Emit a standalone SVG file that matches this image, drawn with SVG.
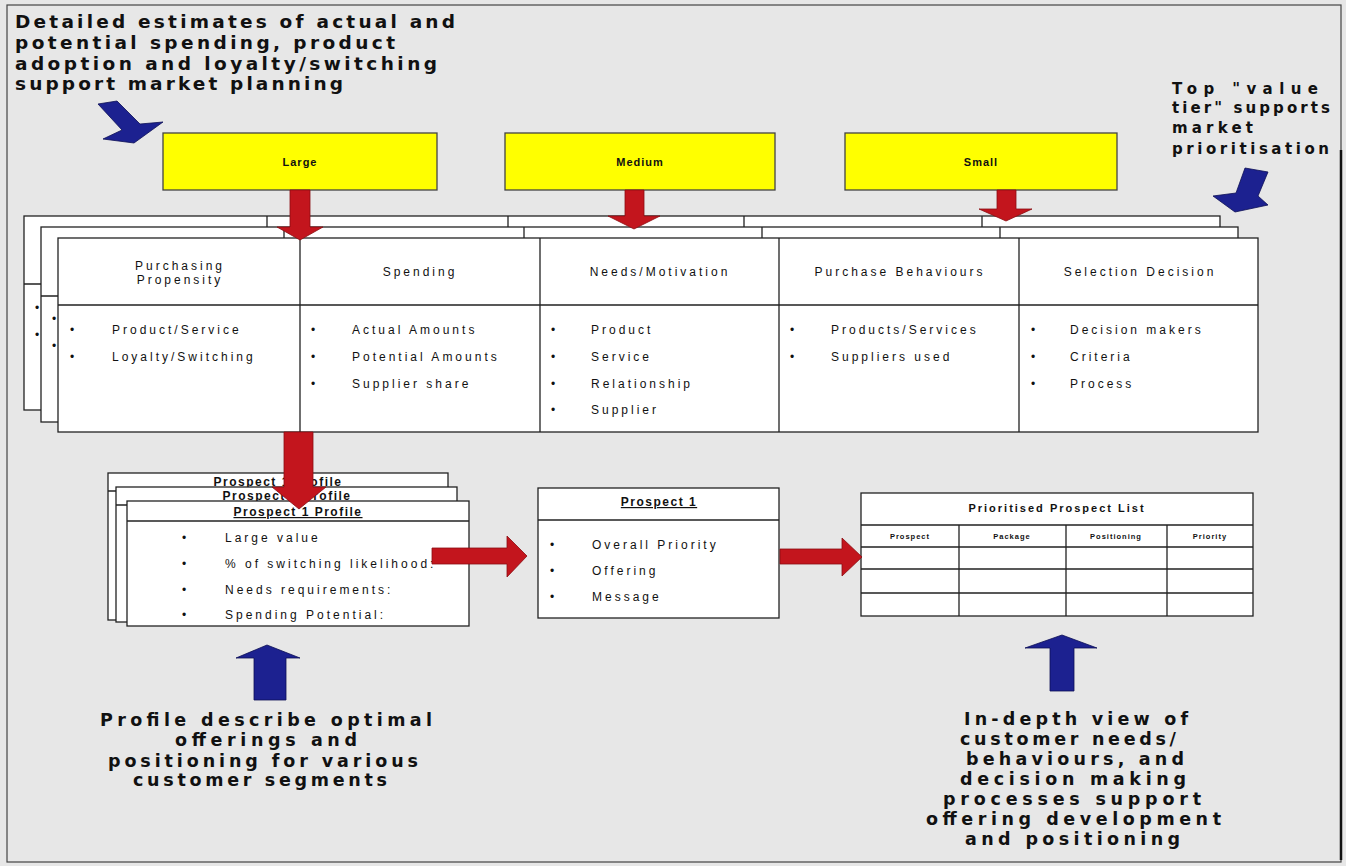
<svg xmlns="http://www.w3.org/2000/svg" width="1346" height="866" viewBox="0 0 1346 866">
<defs>
<style>
.bg{fill:#e7e7e7}
.box{fill:#ffffff;stroke:#222;stroke-width:1.3}
.ln{stroke:#222;stroke-width:1.3;fill:none}
.yel{fill:#ffff00;stroke:#444;stroke-width:1.3}
.t{font-family:"Liberation Sans",Arial,sans-serif;font-size:12px;letter-spacing:3px;fill:#111}
.tc{text-anchor:middle}
.yt{font-family:"Liberation Sans",Arial,sans-serif;font-size:11px;font-weight:bold;letter-spacing:1px;fill:#111;text-anchor:middle}
.bt{font-family:"DejaVu Sans","Liberation Sans",Arial,sans-serif;font-weight:bold;fill:#111}
.tt{font-family:"Liberation Sans",Arial,sans-serif;font-weight:bold;fill:#111}
.hd{font-family:"Liberation Sans",Arial,sans-serif;font-size:12px;font-weight:bold;letter-spacing:1.5px;fill:#111;text-anchor:middle;text-decoration:underline}
.th{font-family:"Liberation Sans",Arial,sans-serif;font-size:7.5px;font-weight:bold;letter-spacing:1px;fill:#111;text-anchor:middle}
.red{fill:#c3151d;stroke:#8a0e12;stroke-width:0.8}
.blue{fill:#1c2190;stroke:#0c0f55;stroke-width:0.8}
</style>
</defs>
<rect class="bg" x="0" y="0" width="1346" height="866"/>
<rect x="7" y="5" width="1334" height="857" fill="none" stroke="#444" stroke-width="1.2"/>
<line x1="1341" y1="150" x2="1341" y2="860" stroke="#111" stroke-width="2.5"/>

<g id="note-top-left">
<text class="bt" font-size="18.5" x="15" y="28" textLength="440" lengthAdjust="spacing">Detailed estimates of actual and</text>
<text class="bt" font-size="18.5" x="15" y="49" textLength="380" lengthAdjust="spacing">potential spending, product</text>
<text class="bt" font-size="18.5" x="15" y="70" textLength="422" lengthAdjust="spacing">adoption and loyalty/switching</text>
<text class="bt" font-size="18.5" x="15" y="90" textLength="328" lengthAdjust="spacing">support market planning</text>
</g>

<g id="note-top-right">
<text class="bt" font-size="15" x="1172" y="94" textLength="146" lengthAdjust="spacing">Top "value</text>
<text class="bt" font-size="15" x="1172" y="113" textLength="158" lengthAdjust="spacing">tier" supports</text>
<text class="bt" font-size="15" x="1172" y="133" textLength="81" lengthAdjust="spacing">market</text>
<text class="bt" font-size="15" x="1172" y="154" textLength="157" lengthAdjust="spacing">prioritisation</text>
</g>

<g id="tier-large">
<rect class="yel" x="163" y="133" width="274" height="57"/>
<text class="yt" x="300" y="166">Large</text>
</g>
<g id="tier-medium">
<rect class="yel" x="505" y="133" width="270" height="57"/>
<text class="yt" x="640" y="166">Medium</text>
</g>
<g id="tier-small">
<rect class="yel" x="845" y="133" width="272" height="57"/>
<text class="yt" x="981" y="166">Small</text>
</g>

<g id="segment-table-back2">
<rect class="box" x="24" y="216" width="1196" height="194"/>
<path class="ln" d="M24 284H1220M267 216V410M508 216V410M744 216V410M982 216V410"/>
<text class="t" x="35" y="312">•</text>
<text class="t" x="35" y="339">•</text>
</g>
<g id="segment-table-back1">
<rect class="box" x="41" y="227" width="1197" height="195"/>
<path class="ln" d="M41 296H1238M284 227V422M524 227V422M762 227V422M1000 227V422"/>
<text class="t" x="52" y="323">•</text>
<text class="t" x="52" y="350">•</text>
</g>
<g id="segment-table">
<rect class="box" x="58" y="238" width="1200" height="194"/>
<path class="ln" d="M58 305H1258M300 238V432M540 238V432M779 238V432M1019 238V432"/>
<text class="t tc" x="180" y="270">Purchasing</text>
<text class="t tc" x="180" y="284">Propensity</text>
<text class="t tc" x="420" y="276">Spending</text>
<text class="t tc" x="660" y="276">Needs/Motivation</text>
<text class="t tc" x="900" y="276">Purchase Behaviours</text>
<text class="t tc" x="1140" y="276">Selection Decision</text>
<text class="t" x="70" y="334">•</text><text class="t" x="112" y="334">Product/Service</text>
<text class="t" x="70" y="361">•</text><text class="t" x="112" y="361">Loyalty/Switching</text>
<text class="t" x="311" y="334">•</text><text class="t" x="352" y="334">Actual Amounts</text>
<text class="t" x="311" y="361">•</text><text class="t" x="352" y="361">Potential Amounts</text>
<text class="t" x="311" y="388">•</text><text class="t" x="352" y="388">Supplier share</text>
<text class="t" x="551" y="334">•</text><text class="t" x="591" y="334">Product</text>
<text class="t" x="551" y="361">•</text><text class="t" x="591" y="361">Service</text>
<text class="t" x="551" y="388">•</text><text class="t" x="591" y="388">Relationship</text>
<text class="t" x="551" y="414">•</text><text class="t" x="591" y="414">Supplier</text>
<text class="t" x="790" y="334">•</text><text class="t" x="831" y="334">Products/Services</text>
<text class="t" x="790" y="361">•</text><text class="t" x="831" y="361">Suppliers used</text>
<text class="t" x="1031" y="334">•</text><text class="t" x="1070" y="334">Decision makers</text>
<text class="t" x="1031" y="361">•</text><text class="t" x="1070" y="361">Criteria</text>
<text class="t" x="1031" y="388">•</text><text class="t" x="1070" y="388">Process</text>
</g>

<g id="profile-back2">
<rect class="box" x="108" y="473" width="340" height="147"/>
<text class="hd" x="278" y="486">Prospect 1 Profile</text>
<line class="ln" x1="108" y1="491" x2="448" y2="491"/>
</g>
<g id="profile-back1">
<rect class="box" x="116" y="487" width="341" height="135"/>
<text class="hd" x="287" y="500">Prospect 1 Profile</text>
<line class="ln" x1="116" y1="505" x2="457" y2="505"/>
</g>
<g id="profile">
<rect class="box" x="127" y="501" width="342" height="125"/>
<line class="ln" x1="127" y1="521" x2="469" y2="521"/>
<text class="hd" x="298" y="516">Prospect 1 Profile</text>
<text class="t" x="182" y="542">•</text><text class="t" x="225" y="542">Large value</text>
<text class="t" x="182" y="568">•</text><text class="t" x="225" y="568">% of switching likelihood:</text>
<text class="t" x="182" y="594">•</text><text class="t" x="225" y="594">Needs requirements:</text>
<text class="t" x="182" y="619">•</text><text class="t" x="225" y="619">Spending Potential:</text>
</g>

<g id="prospect-1">
<rect class="box" x="538" y="488" width="241" height="130"/>
<line class="ln" x1="538" y1="520" x2="779" y2="520"/>
<text class="hd" x="659" y="506">Prospect 1</text>
<text class="t" x="550" y="549">•</text><text class="t" x="592" y="549">Overall Priority</text>
<text class="t" x="550" y="575">•</text><text class="t" x="592" y="575">Offering</text>
<text class="t" x="550" y="601">•</text><text class="t" x="592" y="601">Message</text>
</g>

<g id="prospect-list">
<rect class="box" x="861" y="493" width="392" height="123"/>
<path class="ln" d="M861 525H1253M861 547H1253M861 569H1253M861 593H1253M959 525V616M1066 525V616M1167 525V616"/>
<text class="tt" font-size="11" letter-spacing="2" text-anchor="middle" x="1057" y="512">Prioritised Prospect List</text>
<text class="th" x="910" y="539">Prospect</text>
<text class="th" x="1012" y="539">Package</text>
<text class="th" x="1116" y="539">Positioning</text>
<text class="th" x="1210" y="539">Priority</text>
</g>

<g id="note-bottom-left">
<text class="bt" font-size="17.5" x="100" y="726" textLength="332" lengthAdjust="spacing">Profile describe optimal</text>
<text class="bt" font-size="17.5" x="175" y="746" textLength="182" lengthAdjust="spacing">offerings and</text>
<text class="bt" font-size="17.5" x="108" y="767" textLength="310" lengthAdjust="spacing">positioning for various</text>
<text class="bt" font-size="17.5" x="133" y="786" textLength="254" lengthAdjust="spacing">customer segments</text>
</g>

<g id="note-bottom-right">
<text class="bt" font-size="17.5" x="964" y="725" textLength="224" lengthAdjust="spacing">In-depth view of</text>
<text class="bt" font-size="17.5" x="960" y="745" textLength="216" lengthAdjust="spacing">customer needs/</text>
<text class="bt" font-size="17.5" x="966" y="765" textLength="218" lengthAdjust="spacing">behaviours, and</text>
<text class="bt" font-size="17.5" x="960" y="785" textLength="226" lengthAdjust="spacing">decision making</text>
<text class="bt" font-size="17.5" x="943" y="805" textLength="258" lengthAdjust="spacing">processes support</text>
<text class="bt" font-size="17.5" x="926" y="825" textLength="295" lengthAdjust="spacing">offering development</text>
<text class="bt" font-size="17.5" x="965" y="845" textLength="215" lengthAdjust="spacing">and positioning</text>
</g>

<g id="connectors">
<polygon class="red" points="290,190 310,190 310,227 323,227 300,240 277,227 290,227"/>
<polygon class="red" points="625,190 644,190 644,216 660,216 634,229 608,216 625,216"/>
<polygon class="red" points="997,190 1016,190 1016,209 1032,209 1006,221 979,209 997,209"/>
<polygon class="red" points="284,432 313,432 313,487 326,487 299,509 272,487 284,487"/>
<polygon class="red" points="432,548 507,548 507,536 527,556 507,577 507,564 432,564"/>
<polygon class="red" points="780,549 842,549 842,538 862,557 842,576 842,564 780,564"/>
<polygon class="blue" points="98,104 117,101 140,124 163,122 134,143 103,139 122,130"/>
<polygon class="blue" points="1245,168 1268,172 1258,196 1268,205 1235,212 1213,196 1236,193"/>
<polygon class="blue" points="267,645 300,658 286,658 286,700 254,700 254,658 236,658"/>
<polygon class="blue" points="1062,635 1097,648 1074,648 1074,691 1050,691 1050,648 1025,648"/>
</g>
</svg>
